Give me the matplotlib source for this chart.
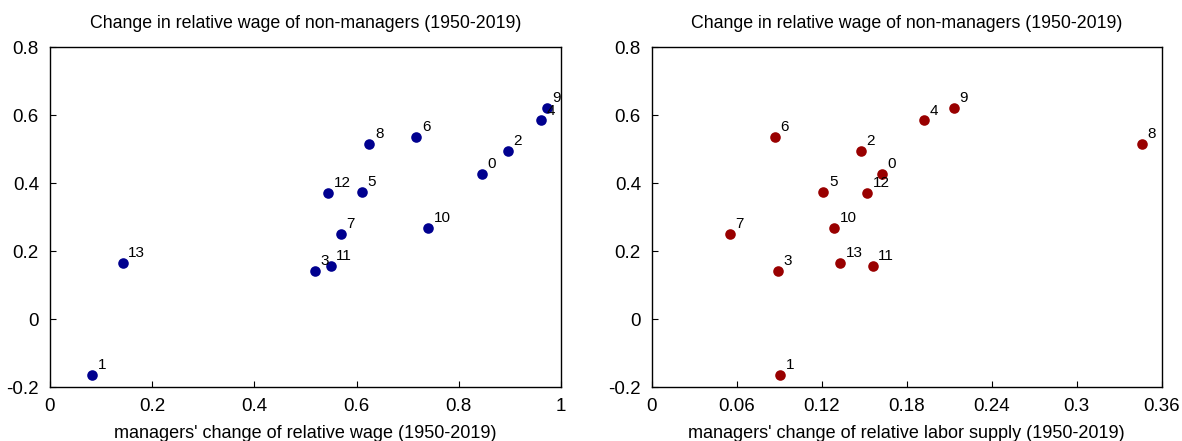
import matplotlib
matplotlib.use("Agg")
import matplotlib.pyplot as plt

plt.rcParams['font.family'] = ['Liberation Sans', 'DejaVu Sans']

labels = [0, 1, 2, 3, 4, 5, 6, 7, 8, 9, 10, 11, 12, 13]
wage_change_nonmgr = [0.427, -0.165, 0.494, 0.141, 0.584, 0.374, 0.535, 0.251, 0.516, 0.622, 0.268, 0.157, 0.371, 0.164]
mgr_wage_change = [0.846, 0.083, 0.896, 0.519, 0.961, 0.611, 0.717, 0.569, 0.625, 0.972, 0.740, 0.549, 0.544, 0.142]
mgr_supply_change = [0.1622, 0.0906, 0.1475, 0.0887, 0.1922, 0.1211, 0.0866, 0.0551, 0.3464, 0.2133, 0.1288, 0.1558, 0.1521, 0.1328]

title = "Change in relative wage of non-managers (1950-2019)"
yticks = [-0.2, 0, 0.2, 0.4, 0.6, 0.8]
ytick_labels = ["-0.2", "0", "0.2", "0.4", "0.6", "0.8"]

fig = plt.figure(figsize=(11.82, 4.41), dpi=100)
ax1 = fig.add_axes([0.0423, 0.1224, 0.4323, 0.771])
ax2 = fig.add_axes([0.5516, 0.1224, 0.4311, 0.771])

def style(ax, xticks, xlabels, xlim, xlabel, xs, color):
    ax.scatter(xs, wage_change_nonmgr, s=58, color=color, zorder=3, linewidths=0)
    for lab, x, y in zip(labels, xs, wage_change_nonmgr):
        ax.annotate(str(lab), (x, y), xytext=(4, 2), textcoords='offset points',
                    ha='left', va='bottom', fontsize=11)
    ax.set_xlim(*xlim)
    ax.set_ylim(-0.2, 0.8)
    ax.set_xticks(xticks)
    ax.set_xticklabels(xlabels)
    ax.set_yticks(yticks)
    ax.set_yticklabels(ytick_labels)
    ax.tick_params(direction='in', length=4, width=0.8, labelsize=13.5, pad=8,
                   top=False, right=False)
    ax.set_xlabel(xlabel, fontsize=13, labelpad=7)
    ax.set_title(title, fontsize=12.8, pad=14)
    for sp in ax.spines.values():
        sp.set_linewidth(1.0)

style(ax1, [0, 0.2, 0.4, 0.6, 0.8, 1.0], ["0", "0.2", "0.4", "0.6", "0.8", "1"], (0, 1),
      "managers' change of relative wage (1950-2019)", mgr_wage_change, "#00008f")
style(ax2, [0, 0.06, 0.12, 0.18, 0.24, 0.3, 0.36], ["0", "0.06", "0.12", "0.18", "0.24", "0.3", "0.36"], (0, 0.36),
      "managers' change of relative labor supply (1950-2019)", mgr_supply_change, "#990000")

fig.savefig("out.png", dpi=100)
